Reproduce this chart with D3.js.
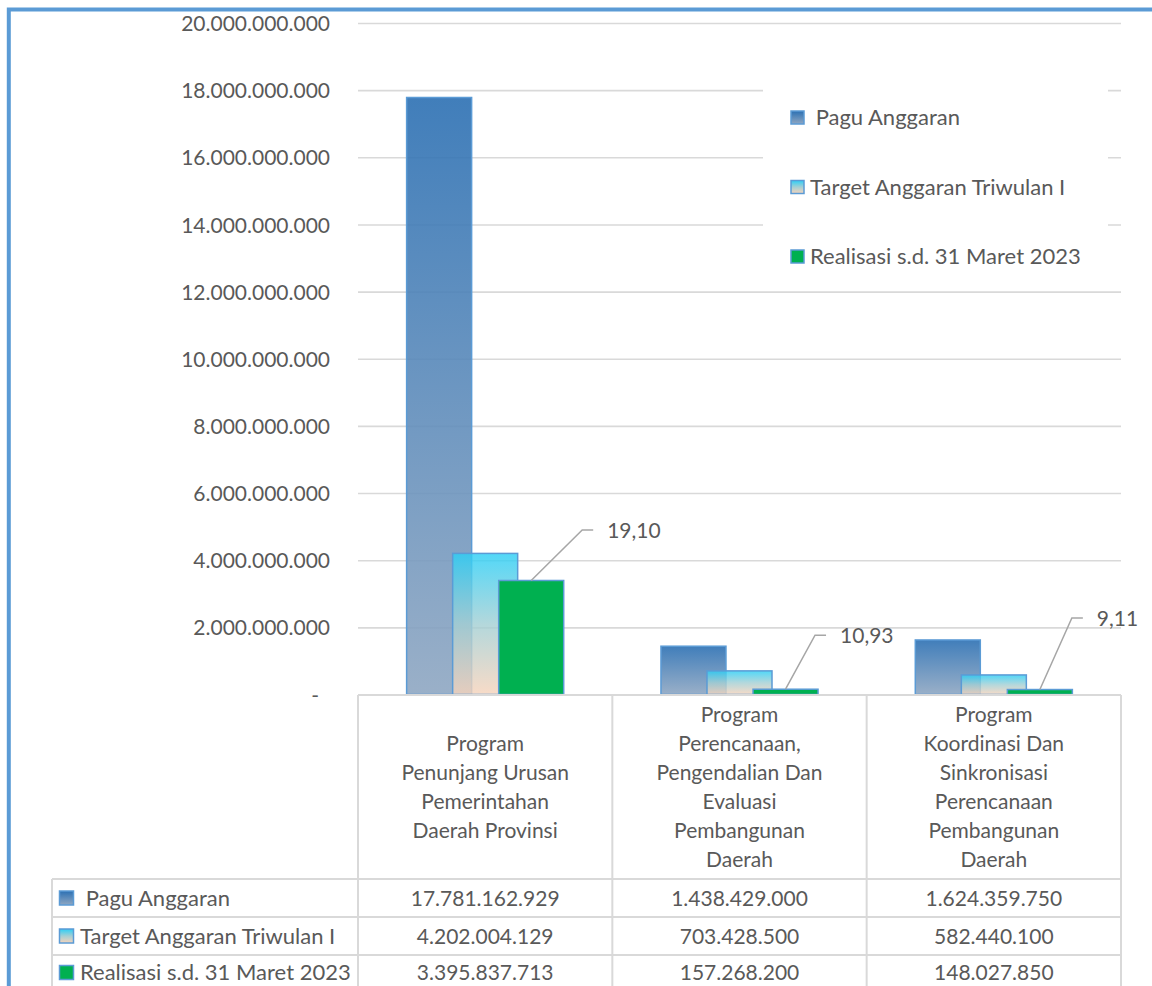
<!DOCTYPE html>
<html>
<head>
<meta charset="utf-8">
<script src="https://cdn.jsdelivr.net/npm/d3@7"></script>
<style>
  body { margin: 0; background: #fff; }
  svg text { font-family: Lato, "Open Sans", sans-serif; fill: #595959; font-size: 21px; white-space: pre; }
  svg text.lbl { font-size: 22px; }
</style>
</head>
<body>
<svg id="chart" width="1152" height="986"></svg>
<script>
// ---------------- DATA ----------------
const categories = [
  "Program\nPenunjang Urusan\nPemerintahan\nDaerah Provinsi",
  "Program\nPerencanaan,\nPengendalian Dan\nEvaluasi\nPembangunan\nDaerah",
  "Program\nKoordinasi Dan\nSinkronisasi\nPerencanaan\nPembangunan\nDaerah"
];
const seriesNames = [" Pagu Anggaran", "Target Anggaran Triwulan I", "Realisasi s.d. 31 Maret 2023"];
const paguAnggaran   = [17781162929, 1438429000, 1624359750];
const targetTriwulan = [4202004129, 703428500, 582440100];
const realisasi      = [3395837713, 157268200, 148027850];
const realisasiPct   = ["19,10", "10,93", "9,11"];
const yTicks = [0, 2e9, 4e9, 6e9, 8e9, 10e9, 12e9, 14e9, 16e9, 18e9, 20e9];

// ---------------- LAYOUT ----------------
const svg = d3.select("#chart");
const plotL = 358, plotR = 1121, plotB = 694.5, plotT = 23;
const tableRowTop = 879, rowH = 38, tableLeft = 52;
const gridColor = "#d9d9d9", borderBlue = "#5b9bd5";
// manual data-label placement (offset from bar top centre)
const labelOffsets = [[76, -50.5], [54.5, -54], [57, -71.5]];

const series = [paguAnggaran, targetTriwulan, realisasi];
const fmt = d3.formatLocale({decimal: ",", thousands: ".", grouping: [3], currency: ["", ""]}).format(",d");

const x = d3.scaleBand().domain(d3.range(categories.length)).range([plotL, plotR]).padding(0);
const y = d3.scaleLinear().domain([0, 20e9]).range([plotB, plotT]);
const bw = x.bandwidth();
const barW = bw * 0.2556, step = bw * 0.181;
const groupOff = (bw - (barW + 2 * step)) / 2;

// gradients
const defs = svg.append("defs");
const g1 = defs.append("linearGradient").attr("id", "gPagu").attr("x1", 0).attr("y1", 0).attr("x2", 0).attr("y2", 1);
g1.append("stop").attr("offset", 0).attr("stop-color", "#2c70b3");
g1.append("stop").attr("offset", 1).attr("stop-color", "#8fa7c2");
const g2 = defs.append("linearGradient").attr("id", "gTarget").attr("x1", 0).attr("y1", 0).attr("x2", 0).attr("y2", 1);
g2.append("stop").attr("offset", 0).attr("stop-color", "#2ccff6");
g2.append("stop").attr("offset", 0.5).attr("stop-color", "#a3cfd4");
g2.append("stop").attr("offset", 1).attr("stop-color", "#f6d3bb");
const fills = ["url(#gPagu)", "url(#gTarget)", "#00b050"];
const fillOp = [0.9, 0.82, 1];

// frame
svg.append("rect").attr("x", 8.8).attr("y", 9.5).attr("width", 1300).attr("height", 1300)
  .attr("fill", "none").attr("stroke", borderBlue).attr("stroke-width", 4);

// gridlines
const grid = svg.append("g").attr("transform", `translate(${plotL},0)`)
  .call(d3.axisLeft(y).tickValues(yTicks).tickSize(-(plotR - plotL)).tickFormat(""));
grid.select(".domain").remove();
grid.selectAll("line").attr("stroke", gridColor).attr("stroke-width", 1.6);

// y axis labels
const yAx = svg.append("g").attr("transform", `translate(${plotL},0)`)
  .call(d3.axisLeft(y).tickValues(yTicks).tickSize(0).tickPadding(28)
    .tickFormat(d => d === 0 ? "-" : fmt(d)));
yAx.select(".domain").remove();
yAx.selectAll("text").attr("font-family", null).attr("font-size", null).attr("fill", null)
  .attr("dy", "0.36em");
yAx.selectAll(".tick").filter(d => d === 0).select("text").attr("x", -39);

// legend box
svg.append("rect").attr("x", 763).attr("y", 78).attr("width", 345).attr("height", 210).attr("fill", "#fff");
seriesNames.forEach((name, k) => {
  const cy = 117.5 + 69.5 * k;
  svg.append("rect").attr("x", 791).attr("y", cy - 6.5).attr("width", 13).attr("height", 13)
    .attr("fill", fills[k]).attr("stroke", borderBlue).attr("stroke-width", 1.5);
  svg.append("text").attr("class", "lbl").attr("x", 810).attr("y", cy).attr("dy", "0.36em").text(name);
});

// bars
series.forEach((vals, k) => {
  svg.append("g").selectAll("rect").data(vals).join("rect")
    .attr("x", (d, i) => x(i) + groupOff + k * step)
    .attr("y", d => y(d))
    .attr("width", barW)
    .attr("height", d => y(0) - y(d))
    .attr("fill", fills[k]).attr("fill-opacity", fillOp[k])
    .attr("stroke", borderBlue).attr("stroke-width", 1.5);
});

// data labels with leader lines
realisasi.forEach((v, i) => {
  const cx = x(i) + groupOff + 2 * step + barW / 2;
  const top = y(v);
  const tx = cx + labelOffsets[i][0], ty = top + labelOffsets[i][1];
  svg.append("polyline")
    .attr("points", `${cx},${top} ${tx - 25},${ty} ${tx - 14},${ty}`)
    .attr("fill", "none").attr("stroke", "#a6a6a6").attr("stroke-width", 1.5);
  svg.append("text").attr("x", tx).attr("y", ty).attr("dy", "0.36em").text(realisasiPct[i]);
});

// data table
const tbl = svg.append("g").attr("stroke", gridColor).attr("stroke-width", 2);
const tableBottom = tableRowTop + rowH * 3;
tbl.append("line").attr("x1", plotL).attr("x2", plotR).attr("y1", 695).attr("y2", 695);
for (let r = 0; r < 3; r++) {
  tbl.append("line").attr("x1", tableLeft).attr("x2", plotR)
    .attr("y1", tableRowTop + r * rowH).attr("y2", tableRowTop + r * rowH);
}
tbl.append("line").attr("x1", tableLeft).attr("x2", tableLeft).attr("y1", tableRowTop).attr("y2", tableBottom);
categories.forEach((c, i) => {
  tbl.append("line").attr("x1", x(i)).attr("x2", x(i)).attr("y1", 695).attr("y2", tableBottom);
});
tbl.append("line").attr("x1", plotR).attr("x2", plotR).attr("y1", 695).attr("y2", tableBottom);

// category labels
categories.forEach((c, i) => {
  const lines = c.split("\n");
  const cx = x(i) + bw / 2;
  const y0 = 787 - (lines.length - 1) / 2 * 29;
  const t = svg.append("text").attr("text-anchor", "middle");
  lines.forEach((ln, j) => {
    t.append("tspan").attr("x", cx).attr("y", y0 + j * 29).attr("dy", "0.36em").text(ln);
  });
});

// table rows
series.forEach((vals, k) => {
  const cy = tableRowTop + rowH * k + rowH / 2 - (k === 2 ? 1.5 : 0);
  svg.append("rect").attr("x", 59.5).attr("y", cy - 7).attr("width", 14).attr("height", 14)
    .attr("fill", fills[k]).attr("stroke", borderBlue).attr("stroke-width", 1.5);
  svg.append("text").attr("class", "lbl").attr("x", 80).attr("y", cy).attr("dy", "0.36em").text(seriesNames[k]);
  vals.forEach((v, i) => {
    svg.append("text").attr("x", x(i) + bw / 2).attr("y", cy).attr("dy", "0.36em")
      .attr("text-anchor", "middle").text(fmt(v));
  });
});
</script>
</body>
</html>
